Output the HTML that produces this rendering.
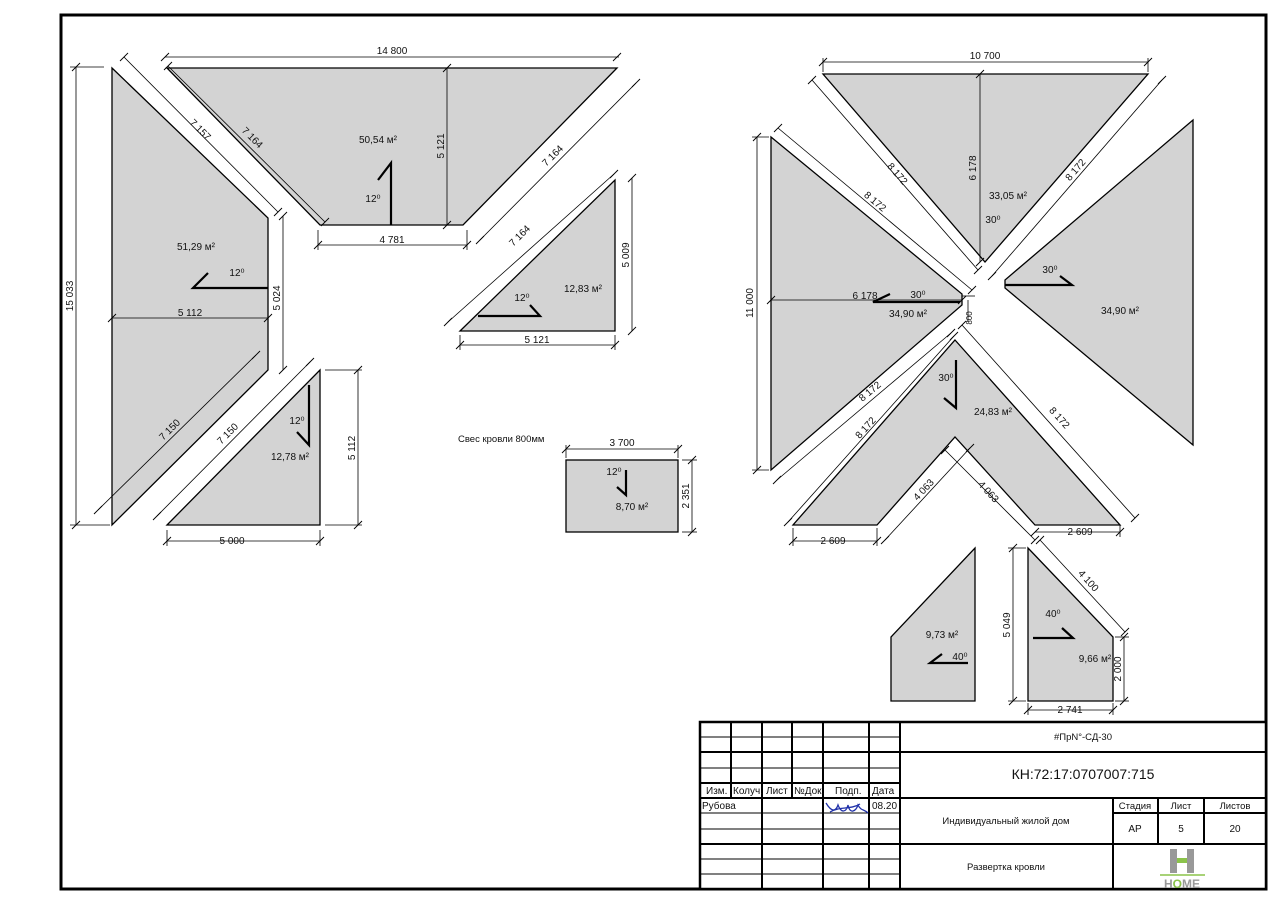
<!DOCTYPE html>
<html><head><meta charset="utf-8"><style>
body{margin:0;background:#fff}
svg{display:block}
text{font-family:"Liberation Sans",sans-serif;font-size:10px;fill:#111}
</style></head><body>
<svg width="1280" height="905" viewBox="0 0 1280 905" xmlns="http://www.w3.org/2000/svg">
<rect x="0" y="0" width="1280" height="905" fill="#fff"/>
<rect x="61" y="15" width="1205" height="874" fill="none" stroke="#000" stroke-width="3"/>

<g fill="#d3d3d3" stroke="#000" stroke-width="1.3">
<polygon points="112,68 268,218 268,370 112,525"/>
<polygon points="167,68 617,68 463,225 320,225"/>
<polygon points="615,180 615,331 460,331"/>
<polygon points="320,370 320,525 167,525"/>
<rect x="566" y="460" width="112" height="72"/>
<polygon points="823,74 1148,74 985,262"/>
<polygon points="1193,120 1193,445 1005,288 1005,280"/>
<polygon points="771,137 771,470 962,305 962,294"/>
<polygon points="955,340 1120,525 1035,525 955,437 877,525 793,525"/>
<polygon points="975,548 975,701 891,701 891,637"/>
<polygon points="1028,548 1113,637 1113,701 1028,701"/>
</g>

<g stroke="#000" stroke-width="0.8" fill="none">
<line x1="165" y1="57" x2="619" y2="57"/>
<line x1="76" y1="67" x2="76" y2="525"/><line x1="70" y1="67" x2="104" y2="67"/><line x1="70" y1="525" x2="110" y2="525"/>
<line x1="124" y1="57" x2="278" y2="212"/>
<line x1="168" y1="66" x2="325" y2="222"/>
<line x1="447" y1="68" x2="447" y2="225"/>
<line x1="318" y1="245" x2="467" y2="245"/><line x1="318" y1="230" x2="318" y2="250"/><line x1="467" y1="230" x2="467" y2="250"/>
<line x1="636" y1="83" x2="480" y2="240"/>
<line x1="614" y1="174" x2="448" y2="322"/>
<line x1="632" y1="178" x2="632" y2="331"/>
<line x1="460" y1="345" x2="615" y2="345"/><line x1="460" y1="335" x2="460" y2="350"/><line x1="615" y1="335" x2="615" y2="350"/>
<line x1="283" y1="216" x2="283" y2="370"/>
<line x1="112" y1="318" x2="268" y2="318"/>
<line x1="98" y1="510" x2="256" y2="355"/>
<line x1="157" y1="516" x2="310" y2="362"/>
<line x1="358" y1="370" x2="358" y2="525"/><line x1="325" y1="370" x2="362" y2="370"/><line x1="325" y1="525" x2="362" y2="525"/>
<line x1="167" y1="541" x2="320" y2="541"/><line x1="167" y1="530" x2="167" y2="546"/><line x1="320" y1="530" x2="320" y2="546"/>
<line x1="566" y1="449" x2="678" y2="449"/><line x1="566" y1="445" x2="566" y2="458"/><line x1="678" y1="445" x2="678" y2="458"/>
<line x1="692" y1="460" x2="692" y2="532"/><line x1="682" y1="460" x2="697" y2="460"/><line x1="682" y1="532" x2="697" y2="532"/>

<line x1="823" y1="62" x2="1148" y2="62"/><line x1="823" y1="58" x2="823" y2="72"/><line x1="1148" y1="58" x2="1148" y2="72"/>
<line x1="812" y1="80" x2="978" y2="270"/>
<line x1="1162" y1="80" x2="992" y2="276"/>
<line x1="980" y1="74" x2="980" y2="262"/>
<line x1="757" y1="137" x2="757" y2="470"/><line x1="752" y1="137" x2="769" y2="137"/><line x1="752" y1="470" x2="769" y2="470"/>
<line x1="778" y1="128" x2="972" y2="290"/>
<line x1="771" y1="300" x2="962" y2="300"/>
<line x1="962" y1="296" x2="975" y2="296"/><line x1="968" y1="300" x2="968" y2="322"/>
<line x1="951" y1="333" x2="777" y2="480"/>
<line x1="954" y1="336" x2="788" y2="522"/>
<line x1="962" y1="325" x2="1135" y2="518"/>
<line x1="885" y1="540" x2="970" y2="448"/>
<line x1="945" y1="450" x2="1035" y2="540"/>
<line x1="793" y1="541" x2="877" y2="541"/><line x1="793" y1="528" x2="793" y2="546"/><line x1="877" y1="528" x2="877" y2="546"/>
<line x1="1035" y1="532" x2="1120" y2="532"/><line x1="1120" y1="525" x2="1120" y2="537"/>
<line x1="1013" y1="548" x2="1013" y2="701"/><line x1="1008" y1="548" x2="1026" y2="548"/><line x1="1008" y1="701" x2="1026" y2="701"/>
<line x1="1040" y1="540" x2="1125" y2="632"/>
<line x1="1124" y1="637" x2="1124" y2="701"/><line x1="1115" y1="637" x2="1129" y2="637"/><line x1="1115" y1="701" x2="1129" y2="701"/>
<line x1="1028" y1="710" x2="1113" y2="710"/><line x1="1028" y1="703" x2="1028" y2="715"/><line x1="1113" y1="703" x2="1113" y2="715"/>
</g>
<g stroke="#000" stroke-width="0.9" fill="none">
<path d="M161,61l8,-8M613,61l8,-8M72,71l8,-8M72,529l8,-8M120,61l8,-8M274,216l8,-8M164,70l8,-8M321,226l8,-8M443,72l8,-8M443,229l8,-8M314,249l8,-8M463,249l8,-8M632,87l8,-8M476,244l8,-8M610,178l8,-8M444,326l8,-8M628,182l8,-8M628,335l8,-8M456,349l8,-8M611,349l8,-8M279,220l8,-8M279,374l8,-8M108,322l8,-8M264,322l8,-8M94,514l8,-8M252,359l8,-8M153,520l8,-8M306,366l8,-8M354,374l8,-8M354,529l8,-8M163,545l8,-8M316,545l8,-8M562,453l8,-8M674,453l8,-8M688,464l8,-8M688,536l8,-8"/>
<path d="M819,66l8,-8M1144,66l8,-8M808,84l8,-8M974,274l8,-8M1158,84l8,-8M988,280l8,-8M976,78l8,-8M976,266l8,-8M753,141l8,-8M753,474l8,-8M774,132l8,-8M968,294l8,-8M767,304l8,-8M958,304l8,-8M773,484l8,-8M947,337l8,-8M784,526l8,-8M950,340l8,-8M958,329l8,-8M1131,522l8,-8M881,544l8,-8M966,452l8,-8M941,454l8,-8M1031,544l8,-8M789,545l8,-8M873,545l8,-8M1031,536l8,-8M1116,536l8,-8M1009,552l8,-8M1009,705l8,-8M1036,544l8,-8M1121,636l8,-8M1120,641l8,-8M1120,705l8,-8M1024,714l8,-8M1109,714l8,-8"/>
</g>
<g stroke="#000" stroke-width="2.2" fill="none">
<path d="M378,180L391,163L391,225"/>
<path d="M208,273L193,288L268,288"/>
<path d="M478,316L540,316L530,305"/>
<path d="M309,385L309,445L297,432"/>
<path d="M626,470L626,495L617,487"/>
<path d="M890,294L873,302L960,302"/>
<path d="M1005,285L1072,285L1060,276"/>
<path d="M956,360L956,408L944,398"/>
<path d="M942,654L930,663L968,663"/>
<path d="M1033,638L1073,638L1062,628"/>
</g>

<g text-anchor="middle">
<text x="392" y="54">14 800</text>
<text transform="translate(73,296) rotate(-90)">15 033</text>
<text transform="translate(198,132) rotate(45)">7 157</text>
<text transform="translate(250,140) rotate(45)">7 164</text>
<text transform="translate(444,146) rotate(-90)">5 121</text>
<text x="392" y="243">4 781</text>
<text transform="translate(555,158) rotate(-45)">7 164</text>
<text transform="translate(522,238) rotate(-45)">7 164</text>
<text transform="translate(629,255) rotate(-90)">5 009</text>
<text x="537" y="343">5 121</text>
<text transform="translate(280,298) rotate(-90)">5 024</text>
<text x="190" y="316">5 112</text>
<text transform="translate(172,432) rotate(-45)">7 150</text>
<text transform="translate(230,436) rotate(-45)">7 150</text>
<text transform="translate(355,448) rotate(-90)">5 112</text>
<text x="232" y="544">5 000</text>
<text x="622" y="446">3 700</text>
<text transform="translate(689,496) rotate(-90)">2 351</text>
<text x="378" y="143">50,54 м²</text>
<text x="373" y="202">12⁰</text>
<text x="196" y="250">51,29 м²</text>
<text x="237" y="276">12⁰</text>
<text x="583" y="292">12,83 м²</text>
<text x="522" y="301">12⁰</text>
<text x="290" y="460">12,78 м²</text>
<text x="297" y="424">12⁰</text>
<text x="614" y="475">12⁰</text>
<text x="632" y="510">8,70 м²</text>

<text x="985" y="59">10 700</text>
<text transform="translate(895,176) rotate(49)">8 172</text>
<text transform="translate(1078,172) rotate(-49)">8 172</text>
<text transform="translate(976,168) rotate(-90)">6 178</text>
<text x="1008" y="199">33,05 м²</text>
<text x="993" y="223">30⁰</text>
<text transform="translate(753,303) rotate(-90)">11 000</text>
<text transform="translate(873,204) rotate(40)">8 172</text>
<text x="865" y="299">6 178</text>
<text x="918" y="298">30⁰</text>
<text x="908" y="317">34,90 м²</text>
<text x="1050" y="273">30⁰</text>
<text x="1120" y="314">34,90 м²</text>
<text transform="translate(972,318) rotate(-90)" style="font-size:8px">800</text>
<text x="946" y="381">30⁰</text>
<text x="993" y="415">24,83 м²</text>
<text transform="translate(872,394) rotate(-40)">8 172</text>
<text transform="translate(868,430) rotate(-48)">8 172</text>
<text transform="translate(1057,420) rotate(48)">8 172</text>
<text transform="translate(926,492) rotate(-47)">4 063</text>
<text transform="translate(986,494) rotate(47)">4 063</text>
<text x="833" y="544">2 609</text>
<text x="1080" y="535">2 609</text>
<text x="942" y="638">9,73 м²</text>
<text x="960" y="660">40⁰</text>
<text transform="translate(1010,625) rotate(-90)">5 049</text>
<text transform="translate(1086,583) rotate(48)">4 100</text>
<text transform="translate(1121,669) rotate(-90)">2 000</text>
<text x="1070" y="713">2 741</text>
<text x="1053" y="617">40⁰</text>
<text x="1095" y="662">9,66 м²</text>
</g>
<text x="458" y="442" style="font-size:9.5px">Свес кровли 800мм</text>

<rect x="700" y="722" width="566" height="167" fill="#fff" stroke="#000" stroke-width="2.5"/>
<g stroke="#000" stroke-width="2">
<line x1="731" y1="722" x2="731" y2="798"/><line x1="762" y1="722" x2="762" y2="889"/><line x1="792" y1="722" x2="792" y2="798"/><line x1="823" y1="722" x2="823" y2="889"/><line x1="869" y1="722" x2="869" y2="889"/><line x1="900" y1="722" x2="900" y2="889"/>
<line x1="700" y1="752" x2="1266" y2="752"/><line x1="700" y1="783" x2="900" y2="783"/><line x1="700" y1="798" x2="1266" y2="798"/><line x1="700" y1="844" x2="1266" y2="844"/>
<line x1="1113" y1="798" x2="1113" y2="889"/><line x1="1158" y1="798" x2="1158" y2="844"/><line x1="1204" y1="798" x2="1204" y2="844"/>
<line x1="1113" y1="813" x2="1266" y2="813"/>
</g>
<g stroke="#000" stroke-width="1">
<line x1="700" y1="737" x2="900" y2="737"/><line x1="700" y1="768" x2="900" y2="768"/><line x1="700" y1="813" x2="900" y2="813"/><line x1="700" y1="829" x2="900" y2="829"/><line x1="700" y1="859" x2="900" y2="859"/><line x1="700" y1="874" x2="900" y2="874"/>
</g>
<g style="font-size:9px">
<text x="706" y="794">Изм.</text><text x="733" y="794">Колуч.</text><text x="766" y="794">Лист</text><text x="794" y="794">№Док.</text><text x="835" y="794">Подп.</text><text x="872" y="794">Дата</text>
<text x="702" y="809">Рубова</text><text x="872" y="809">08.20</text>
</g>
<path d="M826,803c6,10 10,8 12,2c3,8 8,8 10,0c2,10 8,6 10,0c3,6 6,4 10,8M830,812c10,-6 20,-2 30,-8" stroke="#2233aa" stroke-width="1.3" fill="none"/>
<g text-anchor="middle">
<text x="1083" y="740" style="font-size:9.5px">#ПрN°-СД-30</text>
<text x="1083" y="779" style="font-size:14px">КН:72:17:0707007:715</text>
<text x="1006" y="824" style="font-size:9.5px">Индивидуальный жилой дом</text>
<text x="1006" y="870" style="font-size:9.5px">Развертка кровли</text>
<text x="1135" y="809" style="font-size:9.5px">Стадия</text><text x="1181" y="809" style="font-size:9.5px">Лист</text><text x="1235" y="809" style="font-size:9.5px">Листов</text>
<text x="1135" y="832">АР</text><text x="1181" y="832">5</text><text x="1235" y="832">20</text>
</g>
<g>
<rect x="1170" y="849" width="7" height="24" fill="#999"/><rect x="1187" y="849" width="7" height="24" fill="#999"/><rect x="1177" y="858" width="10" height="5" fill="#8bc34a"/>
<line x1="1160" y1="875" x2="1205" y2="875" stroke="#8bc34a" stroke-width="1.5"/>
<text x="1182" y="888" text-anchor="middle" style="font-size:12px;font-weight:bold;fill:#999">H<tspan style="fill:#8bc34a">O</tspan>ME</text>
</g>
</svg>
</body></html>
